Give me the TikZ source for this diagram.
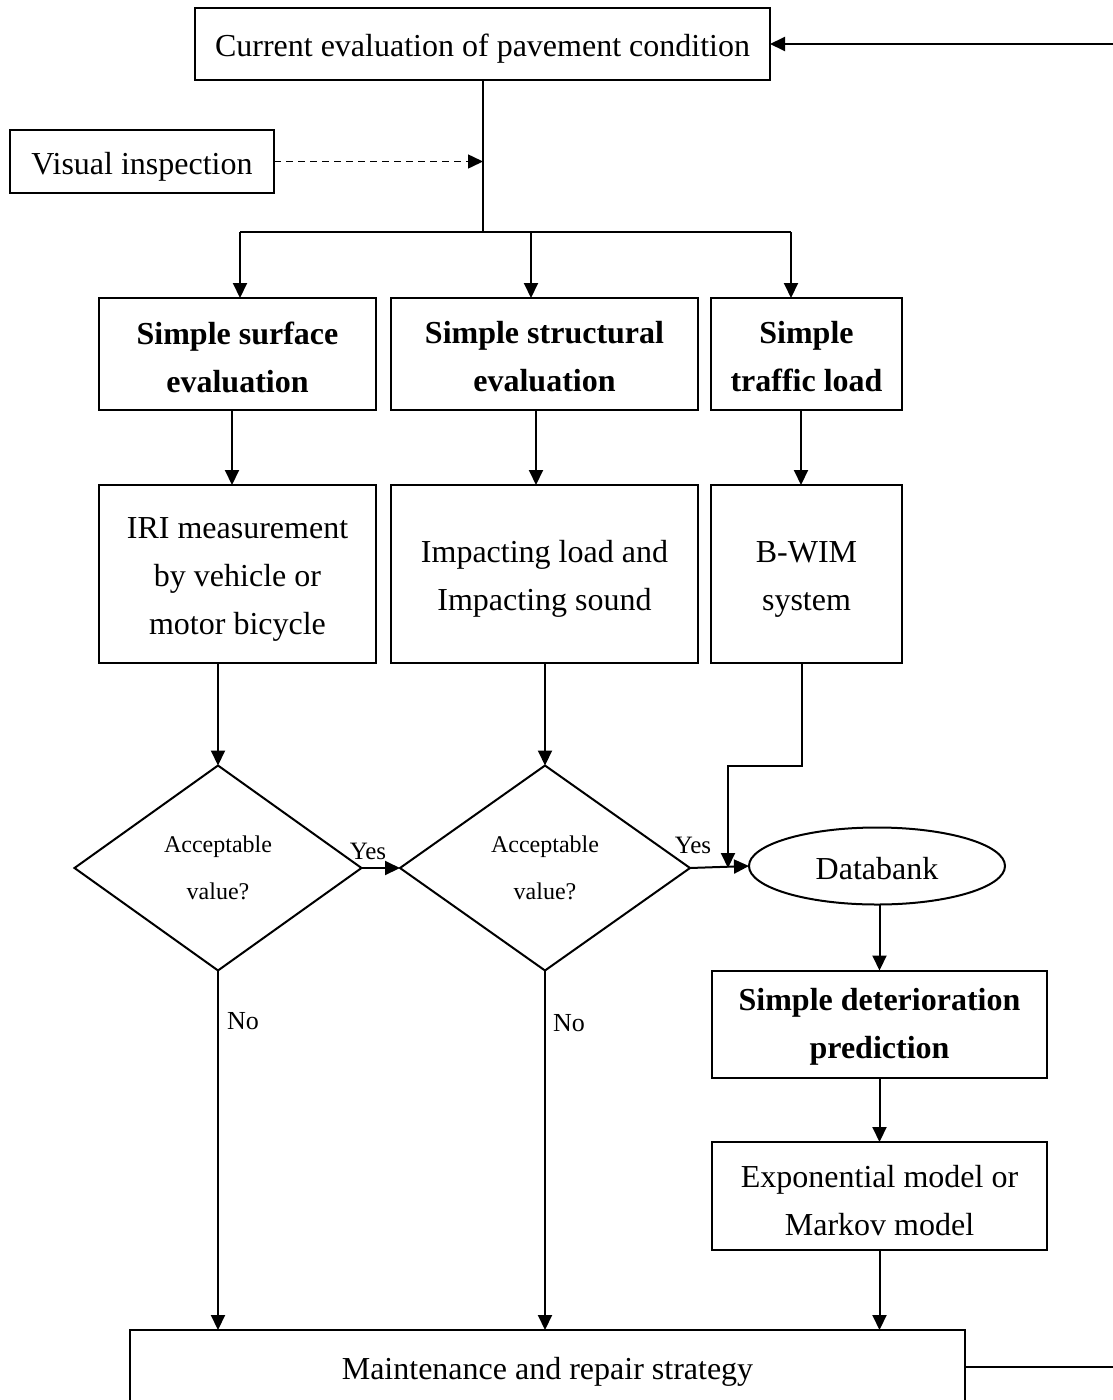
\documentclass[tikz,border=0pt]{standalone}
\usepackage{fontspec}
\setmainfont{Liberation Serif}
\usetikzlibrary{shapes.geometric,arrows.meta}

\begin{document}
\begin{tikzpicture}[
  x=1pt, y=-1pt,
  line width=2pt,
  every node/.style={inner sep=0pt, outer sep=0pt},
  txt/.style={align=center, font=\fontsize{32}{48}\selectfont, yshift=-5pt},
  boldtxt/.style={align=center, font=\fontsize{32}{48}\selectfont\bfseries, yshift=-3pt},
  box/.style={draw, rectangle, label={[txt]center:{#1}}},
  boldbox/.style={draw, rectangle, label={[boldtxt]center:{#1}}},
  decision/.style={draw, diamond, align=center, font=\fontsize{24}{47}\selectfont},
  store/.style={draw, ellipse, label={[txt, yshift=2pt]center:{#1}}},
  arr/.style={-{Triangle[length=15pt,width=14pt]}},
  lbl/.style={font=\fontsize{25}{30}\selectfont}
]
\useasboundingbox (0,0) rectangle (1113,1400);

% top and side inputs
\node[box={Current evaluation of pavement condition}, minimum width=575pt, minimum height=72pt] (top) at (482.5,44) {};
\node[box={Visual inspection}, minimum width=264pt, minimum height=63pt] (vis) at (142,161.5) {};

% evaluation categories
\node[boldbox={Simple surface\\evaluation}, minimum width=277pt, minimum height=112pt] (s1) at (237.5,354) {};
\node[boldbox={Simple structural\\evaluation}, minimum width=307pt, minimum height=112pt] (s2) at (544.5,354) {};
\node[boldbox={Simple\\traffic load}, minimum width=191pt, minimum height=112pt] (s3) at (806.5,354) {};

% measurement methods
\node[box={IRI measurement\\by vehicle or\\motor bicycle}, minimum width=277pt, minimum height=178pt] (m1) at (237.5,574) {};
\node[box={Impacting load and\\Impacting sound}, minimum width=307pt, minimum height=178pt] (m2) at (544.5,574) {};
\node[box={B-WIM\\system}, minimum width=191pt, minimum height=178pt] (m3) at (806.5,574) {};

% decisions and data store
\node[decision, minimum width=287pt, minimum height=205pt] (d1) at (218,868) {Acceptable\\value?};
\node[decision, minimum width=290pt, minimum height=205pt] (d2) at (545,868) {Acceptable\\value?};
\node[store={Databank}, minimum width=256pt, minimum height=77pt] (db) at (877,866) {};

% prediction chain
\node[boldbox={Simple deterioration\\prediction}, minimum width=335pt, minimum height=107pt] (p1) at (879.5,1024) {};
\node[box={Exponential model or\\Markov model}, minimum width=335pt, minimum height=108pt] (p2) at (879.5,1196) {};

% final strategy
\node[box={Maintenance and repair strategy}, minimum width=835pt, minimum height=74pt] (mr) at (547.5,1367) {};

% branching from the top box
\coordinate (j) at (483,232);
\coordinate (vj) at (483,161.5);
\coordinate (b1) at (240,232);
\coordinate (b2) at (531,232);
\coordinate (b3) at (791,232);
\draw (top.south -| j) -- (j);
\draw[arr, dashed, dash pattern=on 7pt off 5pt, line width=1.5pt] (vis.east) -- (vj);
\draw (b1) -- (b3);
\draw[arr] (b1) -- (b1 |- s1.north);
\draw[arr] (b2) -- (b2 |- s2.north);
\draw[arr] (b3) -- (b3 |- s3.north);

% categories to methods
\coordinate (c1) at (232,0);
\coordinate (c2) at (536,0);
\coordinate (c3) at (801,0);
\draw[arr] (c1 |- s1.south) -- (c1 |- m1.north);
\draw[arr] (c2 |- s2.south) -- (c2 |- m2.north);
\draw[arr] (c3 |- s3.south) -- (c3 |- m3.north);

% methods to decisions
\draw[arr] (d1.north |- m1.south) -- (d1.north);
\draw[arr] (d2.north |- m2.south) -- (d2.north);
\coordinate (w1) at (802,766);
\coordinate (w2) at (728,766);
\draw[arr] (w1 |- m3.south) -- (w1) -- (w2) -- (w2 |- d2.east);

% yes branches
\draw[arr] (d1.east) -- (d2.west);
\draw[arr] (d2.east) -- (db.west);
\node[lbl] (y1) at (368,851) {Yes};
\node[lbl] (y2) at (693,845) {Yes};

% prediction chain arrows
\draw[arr] (p1.north |- db.south) -- (p1.north);
\draw[arr] (p1.south) -- (p2.north);
\draw[arr] (p2.south) -- (p2.south |- mr.north);

% no branches
\draw[arr] (d1.south) -- (d1.south |- mr.north);
\draw[arr] (d2.south) -- (d2.south |- mr.north);
\node[lbl, font=\fontsize{26}{30}\selectfont] (n1) at (243,1021) {No};
\node[lbl, font=\fontsize{26}{30}\selectfont] (n2) at (569,1023) {No};

% feedback loop back to the top
\coordinate (r1) at (1140,1367);
\coordinate (r2) at (1140,44);
\draw[arr] (mr.east) -- (r1) -- (r2) -- (top.east);
\end{tikzpicture}
\end{document}
